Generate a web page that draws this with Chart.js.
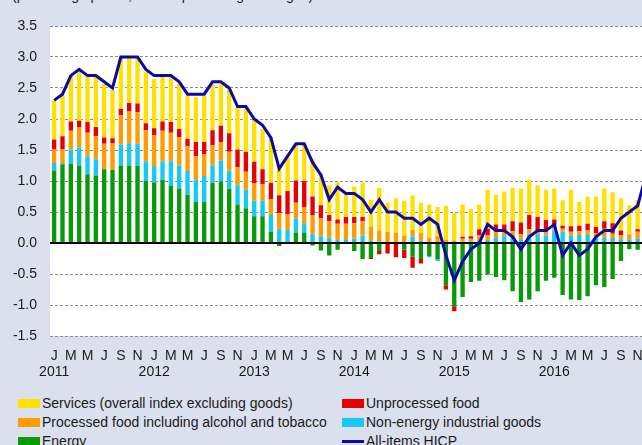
<!DOCTYPE html>
<html>
<head>
<meta charset="utf-8">
<script src="https://cdn.jsdelivr.net/npm/chart.js@4.4.1/dist/chart.umd.min.js"></script>
<style>
  html, body { margin: 0; padding: 0; overflow: hidden; }
  body { width: 642px; height: 445px; background: #dae0ed; position: relative; font-family: 'Liberation Sans', Arial, sans-serif; color: #1a1a1a; }
  #chart { position: absolute; left: 0; top: 0; }
  .note { position: absolute; left: 12px; top: -13px; font-size: 14px; line-height: 16px; white-space: nowrap; }
  .leg { position: absolute; font-size: 14px; line-height: 16px; white-space: nowrap; display: flex; align-items: center; }
  .sw { display: inline-block; width: 22px; height: 9px; margin-right: 2px; }
  .ln { display: inline-block; width: 22px; height: 3px; margin-right: 2px; }
</style>
</head>
<body>
<div class="note">(percentage points; annual percentage changes)</div>
<canvas id="chart" width="658" height="390"></canvas>
<div id="legend"></div>

<script>
// monthly axis, Jan 2011 - Dec 2016
const monthLetters = ['J', 'F', 'M', 'A', 'M', 'J', 'J', 'A', 'S', 'O', 'N', 'D'];
const years = ['2011', '2012', '2013', '2014', '2015', '2016'];

// contributions (percentage points), one value per month
const energy = [
  1.17, 1.27, 1.28, 1.25, 1.11, 1.09, 1.19, 1.18, 1.25, 1.25, 1.24, 1.00,
  0.98, 1.02, 0.92, 0.88, 0.78, 0.66, 0.66, 0.97, 0.99, 0.87, 0.62, 0.56,
  0.43, 0.43, 0.18, -0.05, 0.00, 0.17, 0.17, -0.04, -0.12, -0.20, -0.11, 0.00,
  -0.13, -0.26, -0.24, -0.13, 0.00, 0.00, -0.11, -0.22, -0.26, -0.21, -0.26, -0.68,
  -1.02, -0.87, -0.63, -0.61, -0.51, -0.55, -0.60, -0.78, -0.95, -0.91, -0.78, -0.61,
  -0.56, -0.84, -0.91, -0.92, -0.86, -0.68, -0.71, -0.58, -0.29, -0.10, -0.11, 0.25
];
const nonEnergyGoods = [
  0.12, 0.02, 0.23, 0.29, 0.29, 0.26, 0.00, 0.00, 0.34, 0.36, 0.36, 0.32,
  0.26, 0.30, 0.40, 0.37, 0.38, 0.36, 0.42, 0.28, 0.34, 0.30, 0.31, 0.30,
  0.25, 0.25, 0.27, 0.23, 0.21, 0.22, 0.15, 0.14, 0.11, 0.09, 0.05, 0.06,
  0.07, 0.12, 0.04, 0.02, 0.00, 0.00, 0.00, 0.10, 0.04, -0.02, -0.03, 0.00,
  0.00, 0.02, 0.03, 0.03, 0.05, 0.08, 0.11, 0.09, 0.06, 0.15, 0.13, 0.12,
  0.20, 0.18, 0.12, 0.13, 0.13, 0.07, 0.09, 0.08, 0.06, 0.06, 0.07, 0.08
];
const processedFood = [
  0.22, 0.22, 0.30, 0.33, 0.38, 0.37, 0.41, 0.43, 0.47, 0.51, 0.51, 0.50,
  0.50, 0.49, 0.46, 0.45, 0.40, 0.38, 0.35, 0.33, 0.29, 0.30, 0.29, 0.29,
  0.28, 0.27, 0.25, 0.25, 0.25, 0.26, 0.26, 0.31, 0.29, 0.26, 0.26, 0.25,
  0.25, 0.23, 0.22, 0.18, 0.18, 0.16, 0.12, 0.11, 0.12, 0.09, 0.09, 0.05,
  0.04, 0.05, 0.04, 0.09, 0.07, 0.10, 0.08, 0.10, 0.08, 0.07, 0.04, 0.06,
  0.08, 0.05, 0.06, 0.06, 0.07, 0.09, 0.14, 0.07, 0.06, 0.08, 0.11, 0.10
];
const unprocessedFood = [
  0.16, 0.21, 0.15, 0.10, 0.17, 0.15, 0.10, 0.08, 0.10, 0.14, 0.14, 0.11,
  0.11, 0.15, 0.17, 0.14, 0.12, 0.23, 0.20, 0.24, 0.27, 0.30, 0.29, 0.32,
  0.35, 0.24, 0.27, 0.29, 0.38, 0.36, 0.42, 0.30, 0.21, 0.10, 0.07, 0.11,
  0.10, 0.07, -0.02, -0.05, -0.17, -0.23, -0.13, -0.18, -0.07, 0.00, 0.01, -0.07,
  -0.08, 0.03, 0.04, 0.10, 0.11, 0.12, 0.11, 0.16, 0.19, 0.23, 0.25, 0.19,
  0.10, 0.05, 0.09, 0.09, 0.11, 0.10, 0.12, 0.17, 0.08, 0.00, 0.04, 0.10
];
const services = [
  0.62, 0.66, 0.74, 0.84, 0.74, 0.81, 0.87, 0.78, 0.85, 0.75, 0.76, 0.83,
  0.79, 0.77, 0.73, 0.73, 0.70, 0.72, 0.74, 0.74, 0.68, 0.70, 0.67, 0.69,
  0.67, 0.65, 0.74, 0.46, 0.55, 0.59, 0.60, 0.61, 0.51, 0.48, 0.60, 0.38,
  0.49, 0.55, 0.44, 0.69, 0.47, 0.56, 0.56, 0.56, 0.49, 0.53, 0.48, 0.55,
  0.44, 0.52, 0.44, 0.40, 0.63, 0.48, 0.53, 0.54, 0.55, 0.57, 0.51, 0.49,
  0.50, 0.41, 0.59, 0.38, 0.44, 0.49, 0.53, 0.50, 0.52, 0.47, 0.47, 0.57
];
// headline annual rate (%)
const hicp = [
  2.3, 2.4, 2.7, 2.8, 2.7, 2.7, 2.6, 2.5, 3.0, 3.0, 3.0, 2.8,
  2.7, 2.7, 2.7, 2.6, 2.4, 2.4, 2.4, 2.6, 2.6, 2.5, 2.2, 2.2,
  2.0, 1.9, 1.7, 1.2, 1.4, 1.6, 1.6, 1.3, 1.1, 0.7, 0.9, 0.8,
  0.8, 0.7, 0.5, 0.7, 0.5, 0.5, 0.4, 0.4, 0.3, 0.4, 0.3, -0.2,
  -0.6, -0.3, -0.1, 0.0, 0.3, 0.2, 0.2, 0.1, -0.1, 0.1, 0.2, 0.2,
  0.3, -0.2, 0.0, -0.2, -0.1, 0.1, 0.2, 0.2, 0.4, 0.5, 0.6, 1.1
];

const COLORS = {
  services: '#ffe100',
  processed: '#ff9c00',
  energy: '#089a08',
  unprocessed: '#e60000',
  neig: '#18c8f5',
  hicp: '#0a0aa5'
};
const FONT = "'Liberation Sans', Arial, sans-serif";

// category labels: one per month
const labels = [];
years.forEach(y => monthLetters.forEach(m => labels.push(m + ' ' + y)));

// white plot area on the blue-grey page
const plotBg = {
  id: 'plotBg',
  beforeDraw(chart) {
    const { ctx, chartArea: a } = chart;
    ctx.save();
    ctx.fillStyle = '#ffffff';
    ctx.fillRect(a.left, a.top, a.right - a.left, a.bottom - a.top);
    ctx.restore();
  }
};

// black zero line, drawn over the bars but under the HICP line
const zeroLine = {
  id: 'zeroLine',
  beforeDatasetDraw(chart, args) {
    if (args.meta.type !== 'line') return;
    const { ctx, chartArea: a, scales } = chart;
    const y0 = scales.y.getPixelForValue(0);
    ctx.save();
    ctx.strokeStyle = '#000';
    ctx.lineWidth = 2;
    ctx.beginPath();
    ctx.moveTo(a.left, y0);
    ctx.lineTo(a.right, y0);
    ctx.stroke();
    ctx.restore();
  }
};

function barSet(label, data, color) {
  return {
    type: 'bar',
    label: label,
    data: data,
    backgroundColor: color,
    borderWidth: 0,
    stack: 'parts',
    order: 1,
    barPercentage: 0.52,
    categoryPercentage: 1
  };
}

new Chart(document.getElementById('chart').getContext('2d'), {
  data: {
    labels: labels,
    datasets: [
      barSet('Energy', energy, COLORS.energy),
      barSet('Non-energy industrial goods', nonEnergyGoods, COLORS.neig),
      barSet('Processed food including alcohol and tobacco', processedFood, COLORS.processed),
      barSet('Unprocessed food', unprocessedFood, COLORS.unprocessed),
      barSet('Services (overall index excluding goods)', services, COLORS.services),
      {
        type: 'line',
        label: 'All-items HICP',
        data: hicp,
        borderColor: COLORS.hicp,
        borderWidth: 3,
        pointRadius: 0,
        tension: 0,
        fill: false,
        stack: 'headline',
        order: 0
      }
    ]
  },
  options: {
    responsive: false,
    devicePixelRatio: 1,
    animation: false,
    layout: { padding: { top: 26, right: 3, left: 0, bottom: 0 } },
    plugins: {
      legend: { display: false },
      tooltip: { enabled: false }
    },
    scales: {
      x: {
        offset: true,
        grid: { display: false, drawTicks: false },
        border: { display: false },
        afterFit(scale) { scale.height = 54; },
        ticks: {
          autoSkip: false,
          maxRotation: 0,
          minRotation: 0,
          padding: 12,
          color: '#1a1a1a',
          font: { family: FONT, size: 14, lineHeight: 1.15 },
          callback: (value, index) => {
            const m = index % 12;
            if (m % 2 === 1) return '';
            if (m === 0) return [monthLetters[m], years[Math.floor(index / 12)]];
            return monthLetters[m];
          }
        }
      },
      y: {
        stacked: true,
        min: -1.5,
        max: 3.5,
        afterFit(scale) { scale.width = 50; },
        grid: {
          drawTicks: false,
          color: c => (c.tick && c.tick.value === 0) ? 'rgba(0,0,0,0)' : '#8c8c8c',
          lineWidth: 1
        },
        border: { display: false, dash: [3, 2] },
        ticks: {
          stepSize: 0.5,
          padding: 13,
          color: '#1a1a1a',
          font: { family: FONT, size: 14 },
          callback: v => v.toFixed(1)
        }
      }
    }
  },
  plugins: [plotBg, zeroLine]
});

// legend in two columns below the chart
const legendItems = [
  { text: 'Services (overall index excluding goods)', color: COLORS.services, kind: 'sw', x: 18, y: 395 },
  { text: 'Processed food including alcohol and tobacco', color: COLORS.processed, kind: 'sw', x: 18, y: 414 },
  { text: 'Energy', color: COLORS.energy, kind: 'sw', x: 18, y: 433 },
  { text: 'Unprocessed food', color: COLORS.unprocessed, kind: 'sw', x: 342, y: 395 },
  { text: 'Non-energy industrial goods', color: COLORS.neig, kind: 'sw', x: 342, y: 414 },
  { text: 'All-items HICP', color: COLORS.hicp, kind: 'ln', x: 342, y: 433 }
];
const legendBox = document.getElementById('legend');
legendItems.forEach(item => {
  const div = document.createElement('div');
  div.className = 'leg';
  div.style.left = item.x + 'px';
  div.style.top = item.y + 'px';
  const mark = document.createElement('span');
  mark.className = item.kind;
  mark.style.background = item.color;
  div.appendChild(mark);
  div.appendChild(document.createTextNode(item.text));
  legendBox.appendChild(div);
});
</script>
</body>
</html>
